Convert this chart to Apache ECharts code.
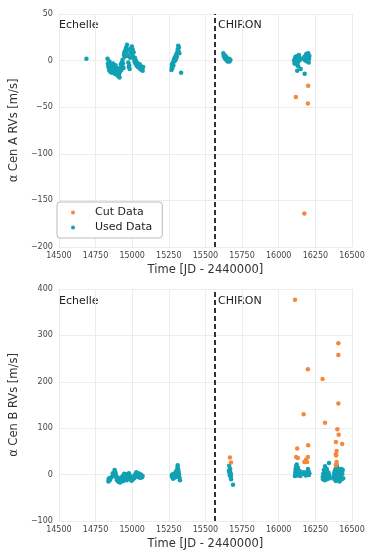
<!DOCTYPE html>
<html>
<head>
<meta charset="utf-8">
<script src="https://cdn.jsdelivr.net/npm/echarts@6/dist/echarts.min.js"></script>
<style>
  html, body { margin: 0; padding: 0; background: #fff; }
  #chart { width: 374px; height: 560px; }
</style>
</head>
<body>
<div id="chart"></div>
<script>
// 数据 —— 从图上估读
const xTicks = [14500, 14750, 15000, 15250, 15500, 15750, 16000, 16250, 16500];
const yTicksA = [-200, -150, -100, -50, 0, 50];
const yTicksB = [-100, 0, 100, 200, 300, 400];
const instrumentSwitch = 15563;

// alpha Cen A
const usedA = [
  [14688, 2],
  [14832, 2], [14835, -3], [14838, -7], [14840, -5], [14843, -10], [14845, -1], [14848, -6], [14850, -12],
  [14853, -8], [14856, -4], [14858, -9], [14861, -13], [14864, -6], [14866, -10], [14869, -3], [14872, -8],
  [14875, -12], [14878, -6], [14881, -14], [14884, -9], [14887, -5], [14890, -11], [14893, -15], [14896, -8],
  [14899, -13], [14902, -16], [14905, -10], [14908, -17], [14911, -14], [14914, -18], [14917, -12], [14920, -8],
  [14923, -4], [14926, -10], [14929, -2], [14932, -6], [14935, 1], [14938, -3], [14941, -8], [14944, 6],
  [14947, 9], [14950, 4], [14953, 11], [14956, 7], [14959, 14], [14962, 10], [14965, 17], [14968, 12],
  [14971, 5], [14974, -2], [14977, -7], [14980, -5], [14983, -9], [14986, 3], [14989, 8], [14992, 13],
  [14995, 10], [14998, 15], [15001, 7], [15004, 12], [15007, 4], [15010, 9], [15013, 2], [15016, -1],
  [15019, 3], [15022, -3], [15025, 0], [15028, -4], [15031, -2], [15034, -6], [15037, -3], [15040, -7],
  [15044, -5], [15048, -8], [15052, -4], [15056, -9], [15060, -6], [15064, -10], [15068, -8], [15072, -11],
  [15075, -7],
  [15268, -10], [15270, -7], [15272, -4], [15275, -8], [15278, -2], [15281, -5], [15284, 1], [15287, -1],
  [15290, 3], [15293, 0], [15296, 5], [15299, 2], [15302, 7], [15305, 4], [15308, 9], [15311, 12],
  [15314, 16], [15316, 10], [15319, 14], [15322, 8], [15334, -13],
  [15622, 8], [15625, 5], [15628, 6], [15630, 3], [15633, 4], [15636, 2], [15638, 5], [15641, 1],
  [15644, 3], [15647, 0], [15650, 2], [15652, -1], [15655, 1], [15658, 0], [15661, 2], [15664, -1],
  [15667, 0], [15670, 1],
  [16105, 0], [16108, -3], [16110, 2], [16113, -1], [16115, 4], [16118, 1], [16120, -4], [16122, 3],
  [16125, 0], [16128, 5], [16130, -2], [16133, -6], [16135, 2], [16138, 6], [16140, 0], [16143, 3],
  [16146, 1], [16126, -11], [16150, -9], [16177, -14], [16170, 2], [16175, 4], [16180, 0], [16183, 5],
  [16186, 2], [16188, 7], [16191, 3], [16194, -1], [16196, 6], [16199, 1], [16201, 8], [16203, 4],
  [16205, -2], [16207, 2], [16209, 5]
];
const cutA = [[16117, -39], [16201, -27], [16199, -46], [16175, -164]];

// alpha Cen B
const usedB = [
  [14838, -15], [14840, -10], [14843, -8], [14847, -12], [14852, -9], [14860, -5], [14868, 3], [14875, -2],
  [14880, 10], [14884, 6], [14888, 2], [14891, -4], [14894, -8], [14897, -12], [14900, -6], [14903, -14],
  [14906, -10], [14909, -16], [14912, -8], [14915, -13], [14918, -17], [14921, -11], [14924, -15], [14927, -7],
  [14930, -12], [14933, -4], [14936, -9], [14939, -14], [14942, -2], [14945, 2], [14948, -6], [14951, -10],
  [14954, -3], [14957, 1], [14960, -7], [14963, -12], [14966, -5], [14969, -9], [14972, 0], [14975, -4],
  [14978, 3], [14981, -2], [14984, -6], [14987, -10], [14990, -4], [14993, -8], [14996, -13], [14999, -6],
  [15002, -11], [15010, -4], [15015, -8], [15020, 0], [15024, -3], [15028, 5], [15032, 1], [15035, -2],
  [15038, 3], [15041, -5], [15044, -1], [15047, 2], [15050, -4], [15053, -7], [15056, -3], [15059, 0],
  [15062, -6], [15065, -2], [15068, -5], [15071, -3],
  [15270, -3], [15273, 0], [15276, -6], [15279, -9], [15282, -4], [15285, 2], [15288, -7], [15291, 1],
  [15294, -2], [15297, 5], [15300, -5], [15303, 9], [15306, 3], [15309, 15], [15311, 20], [15314, 12],
  [15317, 6], [15320, 0], [15323, -6], [15326, -12],
  [15660, 8], [15662, 19], [15664, 10], [15665, 4], [15667, 2], [15668, 6], [15670, -1], [15671, 3],
  [15672, 0], [15674, -4], [15675, -10], [15688, -22], [15666, -2], [15669, 12],
  [16110, -3], [16113, 5], [16115, 12], [16117, 2], [16119, 18], [16121, 8], [16123, 22], [16125, -2],
  [16127, 10], [16129, 4], [16131, 15], [16133, 0], [16135, 6], [16137, -1], [16140, 3], [16143, 8],
  [16146, 1], [16148, -3], [16165, 3], [16170, 5], [16175, 1], [16180, 4], [16185, -2], [16190, 2],
  [16195, 0], [16198, 6], [16200, 12], [16203, 8], [16206, -1], [16209, 3],
  [16300, -5], [16302, -10], [16304, 2], [16306, -7], [16308, 10], [16310, -3], [16312, 5], [16314, -12],
  [16316, 18], [16318, 0], [16320, -8], [16322, 8], [16324, 3], [16326, -4], [16328, 12], [16330, -10],
  [16332, 6], [16335, 0], [16338, -6], [16340, 4], [16343, 25], [16346, -2], [16350, -8],
  [16375, -5], [16378, 3], [16380, -10], [16382, 8], [16385, -2], [16388, 12], [16390, -14], [16392, 5],
  [16394, 22], [16396, -6], [16398, 0], [16400, 16], [16402, -12], [16404, 3], [16406, -8], [16408, 10],
  [16410, -3], [16413, 6], [16416, -15], [16419, 0], [16422, 8], [16425, -6], [16428, 12], [16431, -10],
  [16434, 2], [16437, 10], [16440, -8]
];
const cutB = [
  [15667, 37], [15674, 26],
  [16111, 377], [16407, 283], [16407, 258], [16199, 227], [16299, 206], [16407, 153], [16170, 130],
  [16316, 112], [16400, 98], [16409, 86], [16433, 66], [16201, 63], [16390, 70], [16126, 56], [16395, 51],
  [16390, 44], [16392, 41], [16119, 38], [16130, 36], [16199, 38], [16186, 32], [16175, 27], [16193, 27],
  [16395, 27], [16390, 20]
];

const USED_COLOR = '#12a0b3';
const CUT_COLOR = '#f7873a';
const FONT = 'DejaVu Sans';

function minusFmt(v) { return String(v).replace('-', '\u2212'); }

function makeX(gridIndex) {
  return {
    type: 'value', gridIndex: gridIndex,
    min: xTicks[0], max: xTicks[xTicks.length - 1], interval: 250,
    name: 'Time [JD - 2440000]', nameLocation: 'middle', nameGap: 17,
    nameTextStyle: { fontFamily: FONT, fontSize: 11.5, color: '#333' },
    axisLine: { show: false }, axisTick: { show: false },
    axisLabel: { fontFamily: FONT, fontSize: 8, color: '#444', margin: 5, formatter: minusFmt },
    splitLine: { show: true, lineStyle: { color: '#ececec', width: 1 } }
  };
}
function makeY(gridIndex, ticks, name) {
  return {
    type: 'value', gridIndex: gridIndex,
    min: ticks[0], max: ticks[ticks.length - 1], interval: ticks[1] - ticks[0],
    name: name, nameLocation: 'middle', nameGap: 33,
    nameTextStyle: { fontFamily: FONT, fontSize: 11.5, color: '#333' },
    axisLine: { show: false }, axisTick: { show: false },
    axisLabel: { fontFamily: FONT, fontSize: 8, color: '#444', margin: 6, formatter: minusFmt },
    splitLine: { show: true, lineStyle: { color: '#ececec', width: 1 } }
  };
}
function dashLine() {
  return {
    silent: true, symbol: ['none', 'none'], animation: false,
    label: { show: false },
    lineStyle: { color: '#333', width: 2, type: [5, 3] },
    data: [{ xAxis: instrumentSwitch }]
  };
}
function scatter(name, data, color, xi, extra) {
  return Object.assign({
    name: name, type: 'scatter', xAxisIndex: xi, yAxisIndex: xi,
    data: data, symbolSize: 4.5,
    itemStyle: { color: color, opacity: 1 }
  }, extra || {});
}

const chart_option = {
  backgroundColor: '#ffffff',
  animation: false,
  grid: [
    { left: 51, right: 22, top: 14, height: 233 },
    { left: 51, right: 22, top: 289, height: 232 }
  ],
  xAxis: [makeX(0), makeX(1)],
  yAxis: [makeY(0, yTicksA, '\u03b1 Cen A RVs [m/s]'), makeY(1, yTicksB, '\u03b1 Cen B RVs [m/s]')],
  legend: {
    data: ['Cut Data', 'Used Data'],
    orient: 'vertical', left: 57, top: 202,
    padding: [5, 10, 5, 14], itemGap: 4,
    itemWidth: 4, itemHeight: 4, icon: 'circle',
    borderColor: '#bbb', borderWidth: 1, borderRadius: 3,
    backgroundColor: '#fff',
    textStyle: { fontFamily: FONT, fontSize: 11, color: '#222', padding: [0, 0, 0, 15] }
  },
  graphic: [
    { type: 'text', left: 59, top: 20, style: { text: 'Echelle', font: '11px "DejaVu Sans"', fill: '#222' } },
    { type: 'text', left: 218, top: 20, style: { text: 'CHIRON', font: '11px "DejaVu Sans"', fill: '#222' } },
    { type: 'text', left: 59, top: 296, style: { text: 'Echelle', font: '11px "DejaVu Sans"', fill: '#222' } },
    { type: 'text', left: 218, top: 296, style: { text: 'CHIRON', font: '11px "DejaVu Sans"', fill: '#222' } }
  ],
  series: [
    scatter('Used Data', usedA, USED_COLOR, 0, { markLine: dashLine() }),
    scatter('Cut Data', cutA, CUT_COLOR, 0),
    scatter('Used Data', usedB, USED_COLOR, 1, { markLine: dashLine() }),
    scatter('Cut Data', cutB, CUT_COLOR, 1)
  ]
};

echarts.init(document.getElementById('chart')).setOption(chart_option, true);
</script>
</body>
</html>
